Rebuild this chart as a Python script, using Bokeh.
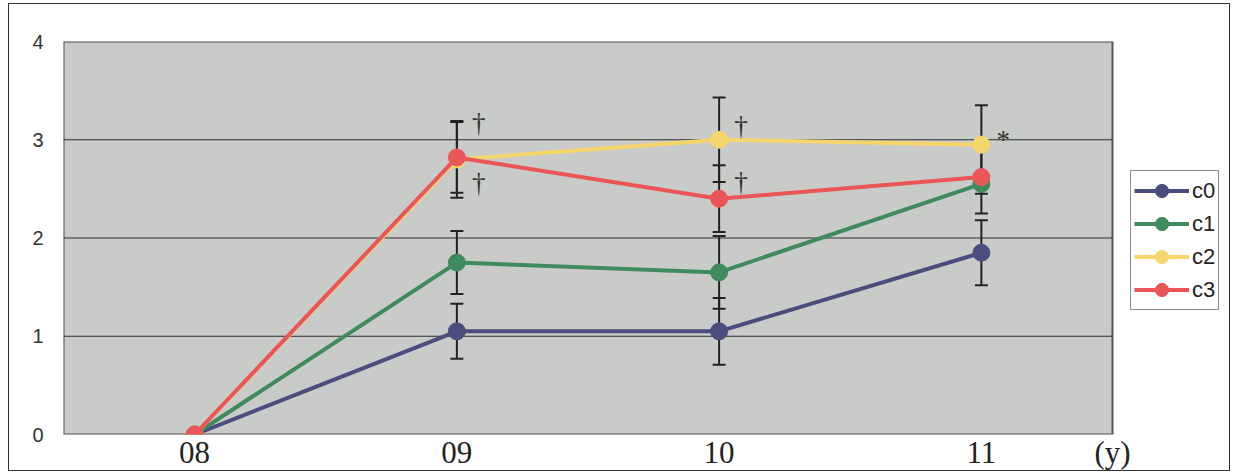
from bokeh.plotting import figure
from bokeh.models import (ColumnDataSource, Legend, LegendItem, FixedTicker, Range1d)
from bokeh.core.properties import value
from bokeh.embed import file_html
from bokeh.resources import INLINE

years = ["08", "09", "10", "11"]
unit_label = "(y)"
series_names = ["c0", "c1", "c2", "c3"]
c0 = [0, 1.05, 1.05, 1.85]
c0_err = [0, 0.28, 0.34, 0.33]
c1 = [0, 1.75, 1.65, 2.55]
c1_err = [0, 0.32, 0.37, 0.10]
c2 = [0, 2.80, 3.00, 2.95]
c2_err = [0, 0.39, 0.43, 0.40]
c3 = [0, 2.82, 2.40, 2.62]
c3_err = [0, 0.36, 0.34, 0.37]
colors = ["#4b4e7c", "#3f8b5e", "#f5d66c", "#ea5658"]
y_ticks = [0, 1, 2, 3, 4]

sig_year = ["09", "09", "10", "10", "11"]
sig_y = [3.17, 2.56, 3.14, 2.57, 3.0]
sig_text = ["†", "†", "†", "†", "*"]

xi = list(range(len(years)))
xmin, xmax = -0.5, len(years) - 0.5
ymin, ymax = y_ticks[0], y_ticks[-1]
# the frame continues to the right of the grey plot area to hold the legend
x_extra = 0.45

p = figure(width=1222, height=468, x_range=Range1d(xmin, xmax + x_extra),
           y_range=Range1d(ymin, ymax),
           output_backend="svg", toolbar_location=None,
           min_border_left=54, min_border_right=1, min_border_top=37,
           min_border_bottom=30, background_fill_color="white",
           border_fill_color="white")
p.styles = {"border": "1.5px solid #333", "margin-left": "8px",
            "margin-top": "3px", "box-sizing": "border-box"}
p.outline_line_color = None
p.grid.visible = False

p.yaxis.ticker = FixedTicker(ticks=y_ticks)
p.xaxis.ticker = FixedTicker(ticks=xi + [xmax])
overrides = {i: y for i, y in zip(xi, years)}
overrides[xmax] = unit_label
p.xaxis.major_label_overrides = overrides
for ax in (p.xaxis[0], p.yaxis[0]):
    ax.axis_line_color = None
    ax.major_tick_line_color = None
    ax.minor_tick_line_color = None
    ax.major_tick_out = 0
    ax.major_tick_in = 0
p.yaxis.major_label_text_font = "Liberation Sans"
p.yaxis.major_label_text_font_size = "20px"
p.yaxis.major_label_text_color = "#333"
p.yaxis.major_label_standoff = 20
p.xaxis.major_label_text_font = "Liberation Serif"
p.xaxis.major_label_text_font_size = "31px"
p.xaxis.major_label_text_color = "#222"
p.xaxis.major_label_standoff = 0

# grey plot area and its horizontal grid lines
p.quad(left=[xmin], right=[xmax], bottom=[ymin], top=[ymax],
       fill_color="#c9cbc8", line_color="#555", line_width=2)
inner = y_ticks[1:-1]
p.segment(x0=[xmin] * len(inner), x1=[xmax] * len(inner), y0=inner, y1=inner,
          line_color="#2e2e2e", line_width=1.2)

all_vals = [c0, c1, c2, c3]
all_err = [c0_err, c1_err, c2_err, c3_err]

# error bars
for vals, errs in zip(all_vals, all_err):
    xs = [x for x, e in zip(xi, errs) if e > 0]
    up = [v + e for v, e in zip(vals, errs) if e > 0]
    lo = [v - e for v, e in zip(vals, errs) if e > 0]
    p.segment(x0=xs, x1=xs, y0=lo, y1=up, line_color="#222", line_width=2)
    p.scatter(x=xs + xs, y=up + lo, marker="dash", size=13,
              line_color="#222", line_width=2)

items = []
for name, vals, col in zip(series_names, all_vals, colors):
    src = ColumnDataSource(dict(x=xi, y=vals))
    lr = p.line("x", "y", source=src, line_color=col, line_width=4)
    sr = p.scatter("x", "y", source=src, size=17, fill_color=col, line_color=col)
    items.append(LegendItem(label=name, renderers=[lr, sr]))

ssrc = ColumnDataSource(dict(x=[years.index(s) for s in sig_year], y=sig_y, t=sig_text))
p.text(x="x", y="y", text="t", source=ssrc, x_offset=22,
       text_font=value("Liberation Serif"), text_font_size="27px",
       text_color="#333", text_align="center", text_baseline="middle")

legend = Legend(items=items, location=(1067, 124), orientation="vertical",
                border_line_color="#222", border_line_width=1,
                background_fill_color="white", background_fill_alpha=1,
                label_text_font="Liberation Sans", label_text_font_size="22px",
                label_text_color="#222", glyph_width=55, glyph_height=33,
                label_height=22, spacing=0, padding=3, label_standoff=3,
                margin=0)
p.add_layout(legend)

open("out.html", "w").write(file_html(p, INLINE))
